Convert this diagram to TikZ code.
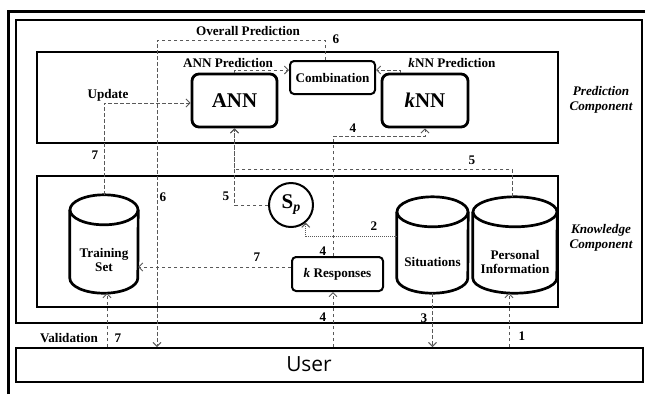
\documentclass[tikz,border=0pt]{standalone}
\usepackage{fontspec}
\setmainfont{Liberation Serif}
\newfontfamily\userfont{Open Sans}
\usetikzlibrary{arrows.meta,calc}
\newcommand\drawcyl[2]{%
  \draw[cyl] ($(#1.north west)+(0,15)$) -- ($(#1.south west)+(0,-15)$)
    arc[start angle=180,end angle=0,x radius=#2,y radius=15]
    -- ($(#1.north east)+(0,15)$);
  \draw[cyl] ($(#1.north)+(0,15)$) ellipse[x radius=#2,y radius=15];
}
\begin{document}
\begin{tikzpicture}[x=1bp,y=-1bp,
  font=\fontsize{13.2}{14}\selectfont\bfseries,
  frame/.style={draw=black,line width=1.5bp},
  bigbox/.style={draw,line width=2.8bp,rounded corners=7bp,minimum width=85bp,minimum height=53bp,inner sep=0pt,font=\fontsize{21}{22}\selectfont\bfseries},
  smallbox/.style={draw,line width=2bp,rounded corners=4bp,inner sep=0pt},
  hold/.style={inner sep=0pt,align=center},
  cyl/.style={line width=2.7bp},
  dl/.style={draw=black!65,line width=0.9bp,dash pattern=on 3.5bp off 2.5bp,-{Straight Barb[length=4bp,width=8bp]}},
  dotl/.style={draw=black!65,line width=1bp,dash pattern=on 1.2bp off 0.8bp,-{Straight Barb[length=4bp,width=8bp]}},
  lbl/.style={inner sep=0pt,font=\fontsize{13.2}{14}\selectfont\bfseries},
  comp/.style={inner sep=0pt,align=center,font=\fontsize{13.2}{15.5}\selectfont\bfseries\itshape}
]
\useasboundingbox[fill=white] (0,0) rectangle (645,394);
% frames
\draw[line width=3bp] (8,394) -- (8,11) -- (645,11);
\draw[frame] (16,20) rectangle (642,323);
\draw[frame] (37,52) rectangle (558,143);
\draw[frame] (37,176) rectangle (558,307);
\node[draw,line width=2bp,minimum width=627bp,minimum height=34bp,inner sep=0pt] (user) at (329.5,365) {};
\node[inner sep=0pt,font=\userfont\fontsize{21}{22}\selectfont] (usertext) at (309,364) {User};
% prediction component
\node[bigbox] (ann) at (234.5,100.5) {ANN};
\node[bigbox,minimum width=86bp] (knn) at (425,100.5) {{\itshape k}NN};
\node[smallbox,minimum width=85bp,minimum height=33bp] (comb) at (332.5,77.5) {Combination};
% knowledge component
\node[smallbox,minimum width=91bp,minimum height=34bp] (kr) at (337.5,274) {{\itshape k} Responses};
\node[draw,circle,line width=2bp,minimum size=44bp,inner sep=0pt,font=\fontsize{21}{22}\selectfont\bfseries] (sp) at (291,205) {S\raisebox{-3bp}{\fontsize{14}{14}\selectfont\itshape p}};
\node[hold,minimum width=68bp,minimum height=98bp] (ts) at (104,244) {};
\node[hold,minimum width=71bp,minimum height=96bp] (sit) at (432.5,245) {};
\node[hold,minimum width=84bp,minimum height=96bp] (pi) at (515,245) {};
\drawcyl{ts}{34}
\drawcyl{sit}{35.5}
\drawcyl{pi}{42}
\node[hold] (tstext) at (104,260) {Training\\Set};
\node[hold] (sittext) at (432.5,262) {Situations};
\node[hold] (pitext) at (515,262) {Personal\\Information};
% side labels
\node[comp] (pc) at (601,100) {Prediction\\Component};
\node[comp] (kc) at (601,238) {Knowledge\\Component};
% connectors
\draw[dl] (ann.north) |- ([yshift=7.5bp]comb.west);
\draw[dl] ([xshift=-25bp]knn.north) |- ([yshift=7.5bp]comb.east);
\coordinate (op) at (157,40);
\draw[dl] ([xshift=-7.5bp]comb.north) |- (op) -- (op |- user.north);
\draw[dl] (ts.north) |- ([yshift=-2.5bp]ann.west);
\coordinate (k7) at ([yshift=7bp]kr.west);
\draw[dl] (k7) -- (k7 -| ts.east);
\draw[dl] (107,0 |- user.north) -- (107,0 |- ts.south);
\draw[dl] (333,0 |- user.north) -- (333,0 |- kr.south);
\draw[dl] (333,0 |- kr.north) |- ($(knn.south)+(0,8)$) -- (knn.south);
\draw[dl] ([xshift=-3bp]pi.north) |- ($(ann.south)+(0,41)$) -- (ann.south);
\draw[dl] (sp.west) -| (ann.south);
\draw[dotl] ([yshift=9bp]sit.west) -| (sp.-50);
\draw[dl] (sit.south) -- (sit.south |- user.north);
\draw[dl] (509,0 |- user.north) -- (509,0 |- pi.south);
% texts
\node[lbl] (t1) at (248,31) {Overall Prediction};
\node[lbl] (t2) at (228,63) {ANN Prediction};
\node[lbl] (t3) at (452,63) {{\itshape k}NN Prediction};
\node[lbl] (t4) at (108,95) {Update};
\node[lbl] (t5) at (69,338) {Validation};
\node[lbl] (n6a) at (336,39) {6};
\node[lbl] (n7a) at (95,155) {7};
\node[lbl] (n6b) at (163,197) {6};
\node[lbl] (n5a) at (226,196) {5};
\node[lbl] (n4a) at (353,128) {4};
\node[lbl] (n5b) at (472,160) {5};
\node[lbl] (n2) at (374,226) {2};
\node[lbl] (n4b) at (323,251) {4};
\node[lbl] (n7b) at (257,257) {7};
\node[lbl] (n4c) at (323,317) {4};
\node[lbl] (n3) at (424,318) {3};
\node[lbl] (n7c) at (118,338) {7};
\node[lbl] (n1) at (522,336) {1};
\end{tikzpicture}
\end{document}
